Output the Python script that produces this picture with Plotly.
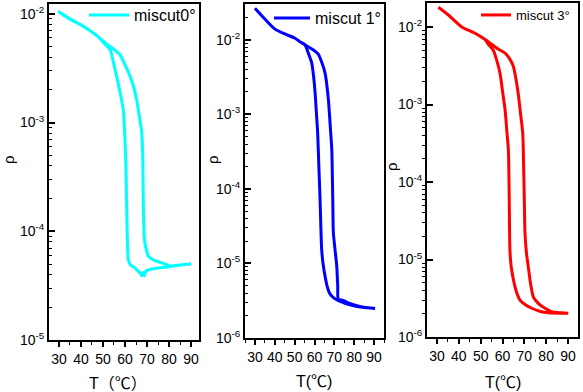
import plotly.graph_objects as go

# ---------------- data ----------------
# miscut 0° (cyan)
T0_heat = [30, 35, 40, 45, 48, 52, 55, 57.7, 60, 62.3, 64, 65.3, 66.5, 67.6, 68.1, 68.3, 68.5, 68.8, 69.5, 70.6, 72.5, 74.4, 77, 80.5, 85, 90]
rho0_heat = [1.04e-2, 9.0e-3, 7.9e-3, 6.8e-3, 6.1e-3, 5.2e-3, 4.7e-3, 4.2e-3, 3.4e-3, 2.66e-3, 2.1e-3, 1.62e-3, 1.15e-3, 8.1e-4, 4.5e-4, 1.95e-4, 1.2e-4, 8.5e-5, 7.0e-5, 5.9e-5, 5.5e-5, 5.3e-5, 5.1e-5, 4.8e-5, 4.9e-5, 5.0e-5]
T0_cool = [30, 35, 40, 45, 48, 50, 53.2, 55, 56.2, 58, 59.2, 60, 60.5, 60.7, 61.0, 61.5, 62.5, 63.8, 65.5, 67.0, 67.6, 68.2, 68.8, 69.5, 72.1, 79, 85, 90]
rho0_cool = [1.04e-2, 8.9e-3, 7.9e-3, 6.8e-3, 6.1e-3, 5.5e-3, 4.7e-3, 3.4e-3, 2.66e-3, 1.8e-3, 1.32e-3, 7.0e-4, 3.5e-4, 1.95e-4, 9.8e-5, 5.5e-5, 4.9e-5, 4.7e-5, 4.4e-5, 4.1e-5, 3.9e-5, 4.2e-5, 3.9e-5, 4.3e-5, 4.5e-5, 4.7e-5, 4.9e-5, 5.0e-5]

# miscut 1° (blue)
T1_heat = [30, 35, 40.1, 45, 50.2, 53, 55.2, 57, 59.5, 61.9, 63.5, 65.3, 67, 68, 68.7, 69.2, 69.5, 70.5, 71.2, 71.7, 72, 74.5, 77, 80.5, 85, 90.5]
rho1_heat = [2.65e-2, 1.9e-2, 1.39e-2, 1.2e-2, 1.05e-2, 9.3e-3, 8.6e-3, 8.0e-3, 7.3e-3, 6.4e-3, 5.1e-3, 3.6e-3, 1.58e-3, 6.5e-4, 3.4e-4, 7.2e-5, 2.6e-5, 1.4e-5, 9.3e-6, 5.0e-6, 3.3e-6, 3.2e-6, 2.95e-6, 2.75e-6, 2.58e-6, 2.48e-6]
T1_cool = [30, 35, 40.1, 45, 50.2, 53, 55.2, 57, 58.6, 59.5, 60.3, 61, 61.6, 62.2, 62.8, 63.6, 64.3, 65.3, 66.5, 67.8, 70, 72, 75, 78.8, 84, 90.5]
rho1_cool = [2.65e-2, 1.9e-2, 1.39e-2, 1.2e-2, 1.05e-2, 9.3e-3, 8.6e-3, 6.5e-3, 4.9e-3, 3.3e-3, 1.95e-3, 1.0e-3, 5.6e-4, 2.0e-4, 7.2e-5, 1.55e-5, 1.0e-5, 6.8e-6, 4.8e-6, 3.9e-6, 3.4e-6, 3.17e-6, 2.95e-6, 2.75e-6, 2.58e-6, 2.48e-6]

# miscut 3° (red)
T3_heat = [30.6, 35.2, 41.3, 47.4, 52, 55, 58, 61.2, 63.5, 65, 66.2, 67.2, 68.3, 69.3, 69.7, 70, 70.3, 71, 71.8, 72.8, 74.1, 76.5, 79.5, 83, 87, 90.1]
rho3_heat = [1.8e-2, 1.43e-2, 1.0e-2, 8.3e-3, 6.9e-3, 6.0e-3, 5.2e-3, 4.6e-3, 3.8e-3, 3.1e-3, 2.1e-3, 1.39e-3, 7.5e-4, 4.2e-4, 1.5e-4, 5.9e-5, 2.2e-5, 1.2e-5, 8.1e-6, 5.0e-6, 3.3e-6, 2.7e-6, 2.35e-6, 2.1e-6, 2.05e-6, 2.02e-6]
T3_cool = [30.6, 35.2, 41.3, 47.4, 52, 53.5, 55.8, 57.5, 58.9, 60, 61.2, 62, 62.7, 63.1, 63.4, 64, 65, 66.3, 68, 70.5, 73.4, 77, 81, 90.1]
rho3_cool = [1.8e-2, 1.43e-2, 1.0e-2, 8.3e-3, 6.9e-3, 6.0e-3, 5.0e-3, 3.6e-3, 2.5e-3, 1.5e-3, 8.5e-4, 4.5e-4, 2.6e-4, 5.9e-5, 1.33e-5, 8.0e-6, 5.5e-6, 3.9e-6, 3.0e-6, 2.6e-6, 2.35e-6, 2.15e-6, 2.05e-6, 2.02e-6]

x_ticks = [30, 40, 50, 60, 70, 80, 90]
x_minor = [25, 35, 45, 55, 65, 75, 85, 95]
y_ticks_a = [1e-5, 1e-4, 1e-3, 1e-2]
y_ticks_b = [1e-6, 1e-5, 1e-4, 1e-3, 1e-2]
y_text_a = ["10<sup>-5</sup>", "10<sup>-4</sup>", "10<sup>-3</sup>", "10<sup>-2</sup>"]
y_text_b = ["10<sup>-6</sup>", "10<sup>-5</sup>", "10<sup>-4</sup>", "10<sup>-3</sup>", "10<sup>-2</sup>"]
names = ["miscut0°", "miscut 1°", "miscut 3°"]
colors = ["#00FFFF", "#0000FF", "#FF0000"]

FONT = "Liberation Sans, Arial, sans-serif"
W, H = 583, 392

fig = go.Figure()

panels = [
    (T0_heat, rho0_heat, T0_cool, rho0_cool),
    (T1_heat, rho1_heat, T1_cool, rho1_cool),
    (T3_heat, rho3_heat, T3_cool, rho3_cool),
]
legend_ids = ["legend", "legend2", "legend3"]
for i, (th, rh, tc, rc) in enumerate(panels):
    xs = list(th) + list(reversed(tc))
    ys = list(rh) + list(reversed(rc))
    sfx = "" if i == 0 else str(i + 1)
    fig.add_trace(go.Scatter(
        x=xs, y=ys, mode="lines", name=names[i],
        line=dict(color=colors[i], width=3, shape="spline", smoothing=0.6),
        xaxis="x" + sfx, yaxis="y" + sfx, legend=legend_ids[i], showlegend=True,
    ))

def minor_log(lo, hi):
    vals = []
    for e in range(lo, hi):
        for k in range(2, 10):
            vals.append(k * 10.0 ** e)
    return vals

# pixel geometry of each panel: (left, right, top, bottom)
geom = [(49, 199, 4, 340), (245, 384, 4, 338), (427, 578, 3, 337)]
xr = [[25.5, 93.6], [25, 95], [25.4, 94.6]]
yr = [[-5, -1.91], [-6, -1.52], [-6, -1.69]]
ytv = [y_ticks_a, y_ticks_b, y_ticks_b]
ytt = [y_text_a, y_text_b, y_text_b]
ymin_lo = [-5, -6, -6]
minor_dir = ["inside", "inside", "outside"]

layout = {}
for i in range(3):
    l, r, t, b = geom[i]
    sfx = "" if i == 0 else str(i + 1)
    layout["xaxis" + sfx] = dict(
        domain=[l / W, r / W], range=xr[i], anchor="y" + sfx, automargin=False,
        tickvals=x_ticks, ticks="outside", ticklen=5, tickwidth=1.5, tickcolor="black",
        minor=dict(tickvals=x_minor, ticks="outside", ticklen=3, tickwidth=1.2, tickcolor="black"),
        showline=True, linecolor="black", linewidth=2, mirror=True,
        showgrid=False, zeroline=False,
        tickfont=dict(family=FONT, size=14, color="black"),
    )
    layout["yaxis" + sfx] = dict(
        domain=[1 - b / H, 1 - t / H], range=yr[i], type="log", anchor="x" + sfx, automargin=False,
        tickvals=ytv[i], ticktext=ytt[i], ticks="inside", ticklen=6, tickwidth=1.5, tickcolor="black",
        minor=dict(tickvals=minor_log(ymin_lo[i], -1), ticks=minor_dir[i], ticklen=3, tickwidth=1.2, tickcolor="black"),
        showline=True, linecolor="black", linewidth=2, mirror=True,
        showgrid=False, zeroline=False,
        tickfont=dict(family=FONT, size=14, color="black"),
    )

leg_pos = [(84, 15, 16, 40), (269, 18, 16, 36), (476, 15, 13, 30)]
for i, lid in enumerate(legend_ids):
    x, y, fs, iw = leg_pos[i]
    layout[lid] = dict(x=x / W, y=1 - y / H, xanchor="left", yanchor="middle",
                       bgcolor="rgba(0,0,0,0)", borderwidth=0, itemwidth=iw,
                       font=dict(family=FONT, size=fs, color="black"))

annotations = []
for (x, y) in [(8, 160), (212, 160), (392, 167)]:
    annotations.append(dict(text="ρ", x=x / W, y=1 - y / H, xref="paper", yref="paper",
                            xanchor="center", yanchor="middle",
                            showarrow=False, textangle=-90,
                            font=dict(family=FONT, size=15, color="black")))
for (txt, x, y) in [("T（℃）", 118, 383), ("T(℃)", 314, 381), ("T(℃)", 503, 382)]:
    annotations.append(dict(text=txt, x=x / W, y=1 - y / H, xref="paper", yref="paper",
                            xanchor="center", yanchor="middle",
                            showarrow=False,
                            font=dict(family=FONT + ", Noto Sans CJK SC", size=16, color="black")))

fig.update_layout(
    width=W, height=H, margin=dict(l=0, r=0, t=0, b=0, autoexpand=False),
    paper_bgcolor="white", plot_bgcolor="white",
    annotations=annotations, **layout,
)

fig.write_html("out.html", config={"displayModeBar": False},
               post_script="document.body.style.margin='0px';document.body.style.overflow='hidden';")
